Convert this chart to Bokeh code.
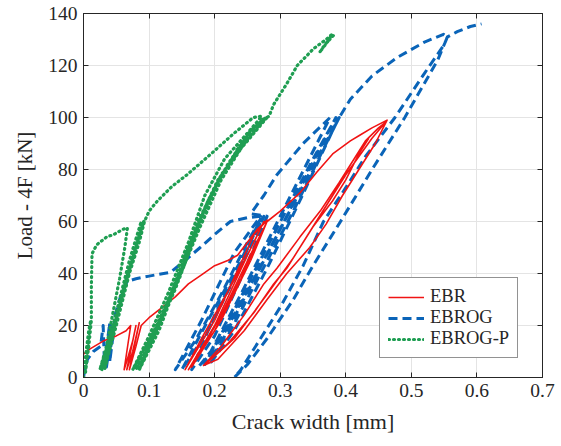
from bokeh.plotting import figure
from bokeh.models import Range1d, FixedTicker, LinearAxis, Legend, LegendItem, CustomJSTickFormatter
from bokeh.embed import file_html
from bokeh.resources import INLINE

# ---------------- data ----------------
x_ticks = [0, 0.1, 0.2, 0.3, 0.4, 0.5, 0.6, 0.7]
x_tick_labels = ["0", "0.1", "0.2", "0.3", "0.4", "0.5", "0.6", "0.7"]
y_ticks = [0, 20, 40, 60, 80, 100, 120, 140]
y_tick_labels = ["0", "20", "40", "60", "80", "100", "120", "140"]
series_names = ["EBR", "EBROG", "EBROG-P"]

ebr_x = [0.0, 0.01, 0.03, 0.05, 0.065, 0.072, 0.062, 0.068, 0.075, 0.08, 0.066, 0.075, 0.085, 0.07, 0.08, 0.088,
         0.10, 0.12, 0.14, 0.16, 0.18, 0.20, 0.22, 0.235, 0.25, 0.265, 0.28,
         0.26, 0.20, 0.155, 0.18, 0.22, 0.26, 0.275, 0.25, 0.20, 0.16, 0.20, 0.24, 0.27, 0.28, 0.26, 0.21, 0.165, 0.21, 0.255, 0.28,
         0.30, 0.33, 0.356, 0.38, 0.407, 0.42, 0.44, 0.463,
         0.445, 0.42, 0.395, 0.37, 0.345, 0.31, 0.28, 0.245, 0.205, 0.183,
         0.21, 0.245, 0.275, 0.295, 0.33, 0.361, 0.39, 0.41, 0.43, 0.45, 0.46,
         0.44, 0.40, 0.36, 0.32, 0.28, 0.23, 0.19, 0.186, 0.22, 0.26, 0.29, 0.31, 0.35, 0.38, 0.40, 0.42, 0.435]
ebr_y = [9, 11, 14, 16, 18, 20, 3, 8, 14, 20, 3, 10, 21, 3, 12, 20,
         23, 27, 31, 36, 39.5, 43, 45, 47, 52, 57, 60.5,
         55, 22, 3, 15, 33, 52, 60, 47, 20, 3, 18, 38, 55, 60, 50, 24, 4, 22, 45, 60,
         64, 71, 79, 86, 91, 93, 96, 99,
         90, 80, 70, 59, 50, 40, 30, 18, 7, 4.6,
         12, 24, 36, 42, 54, 64, 75, 83, 91, 96, 98,
         92, 78, 62, 46, 32, 15, 6, 5, 13, 25, 36, 42, 58, 68, 76, 86, 92]

ebrog_x = [0.0, 0.002, 0.006, 0.015, 0.026, 0.03, 0.032, 0.04, 0.035, 0.044, 0.04, 0.046,
           0.048, 0.055, 0.062, 0.067, 0.08, 0.10, 0.133, 0.15, 0.178, 0.20, 0.224, 0.25, 0.27,
           0.23, 0.18, 0.14, 0.17, 0.21, 0.25, 0.27, 0.24, 0.19, 0.15, 0.19, 0.23, 0.26, 0.275, 0.25, 0.20, 0.165, 0.20, 0.24, 0.27, 0.28,
           0.255, 0.275, 0.295, 0.335, 0.376,
           0.36, 0.30, 0.24, 0.19, 0.175, 0.21, 0.26, 0.31, 0.36, 0.385, 0.35, 0.29, 0.23, 0.185, 0.22, 0.27, 0.32, 0.37, 0.39,
           0.36, 0.30, 0.24, 0.195, 0.23, 0.28, 0.33, 0.38, 0.39,
           0.407, 0.44, 0.478, 0.52, 0.549, 0.555,
           0.54, 0.49, 0.44, 0.392, 0.35, 0.32, 0.28, 0.25, 0.23,
           0.24, 0.27, 0.30, 0.335, 0.366, 0.40, 0.43, 0.475, 0.52, 0.55, 0.555,
           0.57, 0.59, 0.607]
ebrog_y = [0, 3, 7, 10, 12, 20, 5, 21, 4, 20, 6, 18,
           24, 30, 35, 37, 38, 39, 40.5, 44, 50, 55, 60, 61.5, 62,
           48, 22, 3, 14, 32, 52, 61, 45, 22, 3, 18, 38, 55, 62, 48, 24, 3, 16, 38, 56, 62,
           63, 70, 78, 90, 100,
           92, 62, 32, 8, 4, 15, 38, 62, 88, 100, 84, 55, 26, 5, 16, 40, 64, 90, 100,
           86, 57, 28, 6, 18, 42, 68, 95, 100,
           107, 116, 123, 129, 132, 131,
           122, 100, 80, 60, 43, 30, 15, 5, 0,
           3, 15, 27, 43, 60, 73, 85, 100, 117, 128, 131,
           133, 135, 136]

ebrogp_x = [0.0, 0.004, 0.008, 0.011, 0.006, 0.003, 0.008, 0.012, 0.012, 0.013, 0.02, 0.035, 0.046, 0.06, 0.067,
            0.063, 0.055, 0.045, 0.035, 0.025,
            0.04, 0.06, 0.078, 0.088, 0.07, 0.05, 0.028, 0.045, 0.065, 0.082, 0.092, 0.075, 0.05, 0.032, 0.05, 0.07, 0.085, 0.093,
            0.10, 0.113, 0.135, 0.158, 0.19, 0.229, 0.259, 0.272,
            0.25, 0.215, 0.185, 0.16, 0.13, 0.10, 0.075,
            0.10, 0.13, 0.16, 0.19, 0.22, 0.255, 0.278,
            0.245, 0.205, 0.175, 0.15, 0.12, 0.092, 0.08,
            0.105, 0.14, 0.17, 0.20, 0.235, 0.265, 0.28,
            0.24, 0.21, 0.18, 0.155, 0.125, 0.097, 0.085,
            0.115, 0.145, 0.178, 0.21, 0.245, 0.272, 0.283,
            0.29, 0.31, 0.326, 0.351, 0.37, 0.379, 0.372, 0.36, 0.368, 0.381]
ebrogp_y = [0, 10, 18, 22, 10, 2, 12, 22, 35, 47.6, 51, 54, 55, 57, 57.5,
            50, 38, 25, 12, 3,
            15, 33, 48, 60, 45, 25, 3, 18, 38, 52, 60, 46, 22, 3, 20, 40, 52, 60,
            64, 68, 73.5, 78, 85, 93.8, 100, 100.5,
            94, 84, 70, 52, 33, 16, 3,
            14, 30, 50, 68, 82, 95, 100,
            90, 76, 60, 42, 24, 9, 3,
            14, 34, 54, 72, 88, 97, 100,
            88, 78, 62, 44, 26, 10, 3,
            18, 38, 58, 76, 90, 99, 100.5,
            105, 113, 120, 126.5, 130, 132, 129, 125, 128, 131.5]

# ---------------- figure ----------------
SERIF = "Liberation Serif"
TXT = "#262626"

p = figure(frame_width=459, frame_height=364, output_backend="svg", toolbar_location=None,
           x_range=Range1d(0, 0.7), y_range=Range1d(0, 140),
           min_border_left=83, min_border_right=15, min_border_top=13, min_border_bottom=65,
           background_fill_color="white", border_fill_color="white")

p.outline_line_color = TXT
p.outline_line_width = 1
p.outline_line_alpha = 1

xt = FixedTicker(ticks=x_ticks)
yt = FixedTicker(ticks=y_ticks)
p.xaxis.ticker = xt
p.yaxis.ticker = yt
p.xaxis.major_label_overrides = {t: l for t, l in zip(x_ticks, x_tick_labels)}
p.yaxis.major_label_overrides = {t: l for t, l in zip(y_ticks, y_tick_labels)}
p.xgrid.ticker = xt
p.ygrid.ticker = yt
for g in (p.xgrid, p.ygrid):
    g.grid_line_color = "#e4e4e4"
    g.grid_line_width = 1

for ax in (p.xaxis, p.yaxis):
    ax.axis_line_color = TXT
    ax.major_tick_line_color = TXT
    ax.major_tick_in = 5
    ax.major_tick_out = 0
    ax.minor_tick_line_color = None
    ax.major_label_text_font = SERIF
    ax.major_label_text_font_size = "19.5px"
    ax.major_label_text_color = TXT
    ax.axis_label_text_font = SERIF
    ax.axis_label_text_font_size = "21px"
    ax.axis_label_text_font_style = "normal"
    ax.axis_label_text_color = TXT

p.xaxis.axis_label_text_font_size = "22px"
p.xaxis.axis_label = "Crack width [mm]"
p.yaxis.axis_label = "Load - 4F [kN]"
p.xaxis.major_label_standoff = 6
p.yaxis.major_label_standoff = 6
p.xaxis.axis_label_standoff = 9
p.yaxis.axis_label_standoff = 8

# ticks on top / right (MATLAB box style), without labels
blank = CustomJSTickFormatter(code="return ''")
top = LinearAxis(ticker=xt, formatter=blank, major_label_standoff=0,
                 major_tick_in=5, major_tick_out=0, minor_tick_line_color=None,
                 axis_line_color=TXT, major_tick_line_color=TXT)
right = LinearAxis(ticker=yt, formatter=blank, major_label_standoff=0,
                   major_tick_in=5, major_tick_out=0, minor_tick_line_color=None,
                   axis_line_color=TXT, major_tick_line_color=TXT)
p.add_layout(top, "above")
p.add_layout(right, "right")

r_blue = p.line(ebrog_x, ebrog_y, line_color="#0a64b8", line_width=3,
                line_dash="9 5", line_join="round")
r_red = p.line(ebr_x, ebr_y, line_color="#f01414", line_width=1.6, line_join="round")
r_green = p.line(ebrogp_x, ebrogp_y, line_color="#1f9e52", line_width=3.2,
                 line_dash="1 4", line_cap="round", line_join="round")

legend = Legend(items=[LegendItem(label=series_names[0], renderers=[r_red]),
                       LegendItem(label=series_names[1], renderers=[r_blue]),
                       LegendItem(label=series_names[2], renderers=[r_green])],
                location=(296, 19))
legend.label_text_font = SERIF
legend.label_text_font_size = "18.5px"
legend.label_text_color = TXT
legend.glyph_width = 36
legend.glyph_height = 20
legend.label_height = 21
legend.label_standoff = 6
legend.spacing = 0
legend.padding = 8
legend.margin = 0
legend.border_line_color = TXT
legend.border_line_width = 1
legend.background_fill_alpha = 1
p.add_layout(legend, "center")

open("out.html", "w").write(file_html(p, INLINE))
